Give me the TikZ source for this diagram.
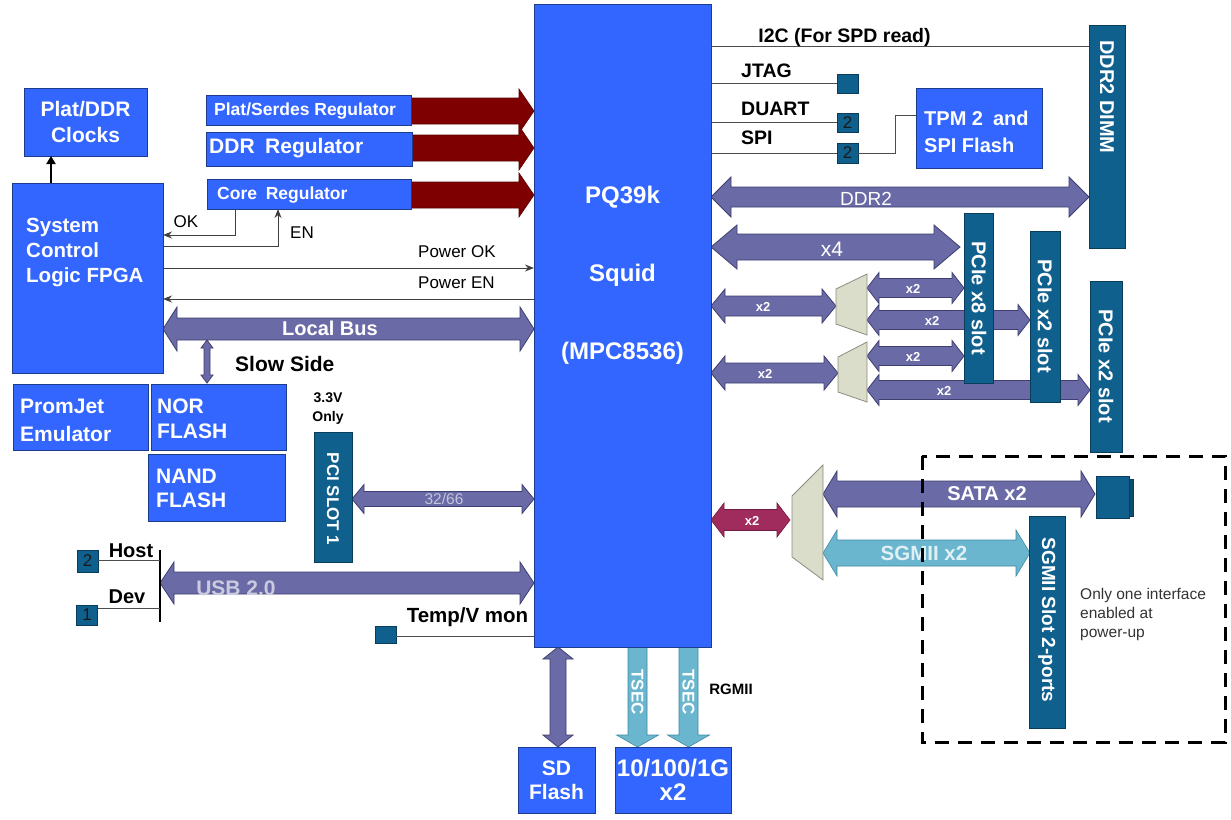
\documentclass[tikz,border=0pt]{standalone}
\usepackage{fontspec}
\setmainfont{Liberation Sans}
\usetikzlibrary{arrows.meta}
\definecolor{boxblue}{HTML}{3366FF}
\definecolor{boxedge}{HTML}{1E3C8C}
\definecolor{slotteal}{HTML}{10608E}
\definecolor{slotedge}{HTML}{0A3C5C}
\definecolor{busfill}{HTML}{6A6AA6}
\definecolor{busedge}{HTML}{3E3E70}
\definecolor{regred}{HTML}{7E0000}
\definecolor{regedge}{HTML}{5A0000}
\definecolor{crim}{HTML}{A02C5E}
\definecolor{crimedge}{HTML}{701A40}
\definecolor{ltblue}{HTML}{6AB6CE}
\definecolor{ltedge}{HTML}{3E8AA4}
\definecolor{muxfill}{HTML}{D9DDC9}
\definecolor{muxedge}{HTML}{8C8C80}
\newcommand\myfs[2]{\fontsize{#1}{#2}\selectfont}
% horizontal double arrow: x1 x2 y bodyhalf headhalf headlen style
\newcommand\HBus[7]{\draw[#7] (#1,#3) -- ({#1+#6},{#3-#5}) -- ({#1+#6},{#3-#4}) -- ({#2-#6},{#3-#4}) -- ({#2-#6},{#3-#5}) -- (#2,#3) -- ({#2-#6},{#3+#5}) -- ({#2-#6},{#3+#4}) -- ({#1+#6},{#3+#4}) -- ({#1+#6},{#3+#5}) -- cycle;}
% horizontal single arrow to the right
\newcommand\RArr[7]{\draw[#7] (#1,{#3-#4}) -- ({#2-#6},{#3-#4}) -- ({#2-#6},{#3-#5}) -- (#2,#3) -- ({#2-#6},{#3+#5}) -- ({#2-#6},{#3+#4}) -- (#1,{#3+#4}) -- cycle;}
% vertical double arrow: x y1 y2 bodyhalf headhalf headlen style
\newcommand\VBus[7]{\draw[#7] (#1,#2) -- ({#1+#5},{#2+#6}) -- ({#1+#4},{#2+#6}) -- ({#1+#4},{#3-#6}) -- ({#1+#5},{#3-#6}) -- (#1,#3) -- ({#1-#5},{#3-#6}) -- ({#1-#4},{#3-#6}) -- ({#1-#4},{#2+#6}) -- ({#1-#5},{#2+#6}) -- cycle;}
% vertical single arrow downwards
\newcommand\DArr[7]{\draw[#7] ({#1-#4},#2) -- ({#1+#4},#2) -- ({#1+#4},{#3-#6}) -- ({#1+#5},{#3-#6}) -- (#1,#3) -- ({#1-#5},{#3-#6}) -- ({#1-#4},{#3-#6}) -- cycle;}
\begin{document}
\begin{tikzpicture}[x=1pt,y=-1pt,
  bbox/.style={draw=boxedge,line width=0.8pt,fill=boxblue,inner sep=0pt,outer sep=0pt,text=white},
  slot/.style={draw=slotedge,line width=0.8pt,fill=slotteal,inner sep=0pt,outer sep=0pt},
  sq/.style={slot,minimum width=21pt,minimum height=20pt,text=black!90,font=\myfs{17}{17}},
  wt/.style={text=white,inner sep=0pt},
  rt/.style={text=white,inner sep=0pt,rotate=-90},
  lbl/.style={text=black,inner sep=0pt},
  bus/.style={fill=busfill,draw=busedge,line width=0.8pt},
  reg/.style={fill=regred,draw=regedge,line width=0.6pt},
  crm/.style={fill=crim,draw=crimedge,line width=0.6pt},
  ltb/.style={fill=ltblue,draw=ltedge,line width=0.6pt},
  mux/.style={fill=muxfill,draw=muxedge,line width=0.8pt},
  wire/.style={draw=black!70,line width=1pt},
  sig/.style={draw=black!75,line width=1pt,-{Stealth[length=9pt,width=7pt]}},
  xtwo/.style={wt,font=\bfseries\myfs{13}{13}}]
\fill[white] (0,0) rectangle (1231,819);
\useasboundingbox (0,0) rectangle (1231,819);

% ---------- buses (behind boxes)
\HBus{163}{534}{329}{11}{22}{14}{bus}
\VBus{207}{340}{383}{3}{6}{8}{bus}
\HBus{352}{534}{499}{7.5}{14.5}{12}{bus}
\HBus{160}{534}{583}{11}{21}{14}{bus}
\HBus{711}{1089}{197}{10}{20}{20}{bus}
\HBus{711}{960}{247}{13}{22}{26}{bus}
\HBus{711}{836}{306}{10}{17}{14}{bus}
\HBus{711}{838}{373}{10}{17}{14}{bus}
\HBus{867}{964}{288}{9.5}{15.5}{12}{bus}
\HBus{867}{1030}{320}{9.5}{15.5}{12}{bus}
\HBus{867}{964}{356}{9.5}{15.5}{12}{bus}
\HBus{867}{1090}{390}{9.5}{15.5}{12}{bus}
\HBus{711}{790}{520}{10.5}{17}{13}{crm}
\HBus{823}{1095}{494}{13}{23}{14}{bus}
\HBus{823}{1030}{553}{13}{23}{14}{ltb}
\VBus{558}{647}{747}{8}{15}{12}{bus}
\DArr{637.5}{647}{747}{9.5}{21}{12}{ltb}
\DArr{688.5}{647}{747}{9.5}{21}{12}{ltb}
\RArr{411}{534}{111}{13}{22}{15}{reg}
\RArr{411}{534}{148}{13}{22}{15}{reg}
\RArr{411}{534}{195}{13}{22}{15}{reg}

% muxes
\draw[mux] (836,289) -- (867,274) -- (867,335) -- (836,324) -- cycle;
\draw[mux] (838,357) -- (867,342) -- (867,402) -- (838,392) -- cycle;
\draw[mux] (792,496) -- (823,465) -- (823,580) -- (792,557) -- cycle;

% bus labels
\node[wt,font=\bfseries\myfs{20}{20}] (lbt) at (330,328) {Local Bus};
\node[wt,text=busfill!40,font=\myfs{15.5}{16}] (pcit) at (444,499) {32/66};
\node[wt,text=busfill!35,font=\bfseries\myfs{21}{21}] (usbt) at (236,588) {USB 2.0};
\node[wt,font=\myfs{19}{19}] (ddrt) at (866,199) {DDR2};
\node[wt,font=\myfs{21}{21}] (x4t) at (832,249) {x4};
\node[xtwo] (xa) at (763,307) {x2};
\node[xtwo] (xb) at (765,374) {x2};
\node[xtwo] (xc) at (913,289) {x2};
\node[xtwo] (xd) at (932,321) {x2};
\node[xtwo] (xe) at (913,357) {x2};
\node[xtwo] (xf) at (944,391) {x2};
\node[xtwo] (xg) at (752,521) {x2};
\node[wt,font=\bfseries\myfs{20}{20}] (satat) at (987,494) {SATA x2};
\node[wt,text=ltblue!20,font=\bfseries\myfs{20.5}{20}] (sgt) at (924,553) {SGMII x2};

% ---------- chip
\node[bbox,minimum width=177pt,minimum height=643pt] (chip) at (622.5,325.5) {};
\node[wt,font=\bfseries\myfs{24}{24}] (c1) at (622.5,197) {PQ39k};
\node[wt,font=\bfseries\myfs{24}{24}] (c2) at (622.5,275) {Squid};
\node[wt,font=\bfseries\myfs{24}{24}] (c3) at (622.5,353) {(MPC8536)};

% ---------- left boxes
\node[bbox,minimum width=123pt,minimum height=68pt,align=center,font=\bfseries\myfs{21}{26}] (clk) at (85.5,122) {Plat/DDR\\Clocks};
\node[bbox,minimum width=151pt,minimum height=190pt] (fpga) at (87.5,278) {};
\node[wt,anchor=west,align=left,font=\bfseries\myfs{20.5}{25}] (fpgat) at (26,253) {System\\Control\\Logic FPGA};
\coordinate (clkx) at (51,0);
\draw[line width=2.5pt,-{Triangle[length=8pt,width=9pt]}] (fpga.north -| clkx) -- (clk.south -| clkx);

\node[bbox,minimum width=205pt,minimum height=30pt] (reg1) at (308.5,110) {};
\node[wt,anchor=west,font=\bfseries\myfs{17.5}{18}] (reg1t) at (214,111) {Plat/Serdes Regulator};
\node[bbox,minimum width=206pt,minimum height=34pt] (reg2) at (309,149) {};
\node[wt,anchor=west,font=\bfseries\myfs{21}{21}] (reg2t) at (209,148) {DDR\enspace Regulator};
\node[bbox,minimum width=204pt,minimum height=30pt] (reg3) at (309,194) {};
\node[wt,anchor=west,font=\bfseries\myfs{17.5}{18}] (reg3t) at (217,195) {Core\enspace Regulator};

% OK / EN / Power signals
\coordinate (okx) at (235,235);
\coordinate (enx) at (278,246);
\coordinate (pok) at (0,268);
\coordinate (pen) at (0,299);
\draw[sig] (reg3.south -| okx) |- (fpga.east |- okx);
\draw[sig] (fpga.east |- enx) -| (reg3.south -| enx);
\node[lbl,font=\myfs{17}{17}] (okt) at (186,222) {OK};
\node[lbl,font=\myfs{17}{17}] (ent) at (302,233) {EN};
\draw[sig] (fpga.east |- pok) -- (chip.west |- pok);
\draw[sig] (chip.west |- pen) -- (fpga.east |- pen);
\node[lbl,anchor=west,font=\myfs{17}{17}] (pokt) at (418,252) {Power OK};
\node[lbl,anchor=west,font=\myfs{17}{17}] (pent) at (418,283) {Power EN};
\node[lbl,anchor=west,font=\bfseries\myfs{21}{21}] (slow) at (235,364) {Slow Side};

\node[bbox,minimum width=135pt,minimum height=66pt] (prom) at (80.5,417) {};
\node[wt,anchor=west,align=left,font=\bfseries\myfs{21}{28}] (promt) at (20,420) {PromJet\\Emulator};
\node[bbox,minimum width=135pt,minimum height=66pt] (nor) at (218.5,417) {};
\node[wt,anchor=west,align=left,font=\bfseries\myfs{21}{25}] (nort) at (157,418.5) {NOR\\FLASH};
\node[bbox,minimum width=137pt,minimum height=67pt] (nand) at (216.5,487.5) {};
\node[wt,anchor=west,align=left,font=\bfseries\myfs{21}{24}] (nandt) at (156,488) {NAND\\FLASH};

\node[lbl,align=center,font=\bfseries\myfs{14}{19}] (v33) at (328,408.5) {3.3V\\Only};
\node[slot,minimum width=38pt,minimum height=130pt] (pci) at (333,497) {};
\node[rt,font=\bfseries\myfs{17}{17}] (pcit2) at (333,499) {PCI SLOT 1};

% USB host/dev
\coordinate (bartop) at (160,550);
\coordinate (barbot) at (160,622);
\draw[line width=2.5pt] (bartop) -- (barbot);
\node[sq,minimum width=21pt,minimum height=22pt] (hostsq) at (87.5,561) {2};
\node[sq] (devsq) at (87,615) {1};
\coordinate (hosty) at (0,560);
\coordinate (devy) at (0,608);
\draw[wire] (hostsq.east |- hosty) -- (bartop |- hosty);
\draw[wire] (devsq.east |- devy) -- (bartop |- devy);
\node[lbl,font=\bfseries\myfs{20}{20}] (hostt) at (131,551) {Host};
\node[lbl,font=\bfseries\myfs{20}{20}] (devt) at (127,597) {Dev};

% Temp/V mon
\node[sq,minimum width=21pt,minimum height=17pt] (tempsq) at (385.5,634.5) {};
\coordinate (tempy) at (0,636);
\draw[wire] (tempsq.east |- tempy) -- (chip.west |- tempy);
\node[lbl,font=\bfseries\myfs{20.5}{20}] (tempt) at (467.5,617) {Temp/V mon};

% ---------- right side
\node[slot,minimum width=36pt,minimum height=223pt] (dimm) at (1107,136.5) {};
\node[rt,font=\bfseries\myfs{20}{20}] (dimmt) at (1107,97) {DDR2 DIMM};
\coordinate (i2cy) at (0,46);
\draw[wire] (chip.east |- i2cy) -- (dimm.west |- i2cy);
\node[lbl,font=\bfseries\myfs{19.5}{19}] (i2ct) at (844.5,37) {I2C (For SPD read)};

\node[sq,minimum height=19pt] (jtag) at (847.5,83.5) {};
\node[sq,minimum height=19pt] (duart) at (847.5,122.5) {2};
\node[sq] (spisq) at (847.5,153) {2};
\draw[wire] (chip.east |- jtag) -- (jtag.west);
\draw[wire] (chip.east |- duart) -- (duart.west);
\draw[wire] (chip.east |- spisq) -- (spisq.west);
\node[lbl,anchor=west,font=\bfseries\myfs{19.5}{20}] (jtagt) at (741,71) {JTAG};
\node[lbl,anchor=west,font=\bfseries\myfs{19.5}{20}] (duartt) at (741,109) {DUART};
\node[lbl,anchor=west,font=\bfseries\myfs{19.5}{20}] (spit) at (741,138) {SPI};

\node[bbox,minimum width=126pt,minimum height=80pt] (tpm) at (979,128) {};
\node[wt,anchor=west,align=left,font=\bfseries\myfs{20}{27}] (tpmt) at (924,131.5) {TPM 2\enspace and\\SPI Flash};
\coordinate (spij) at (895,115);
\draw[wire] (spisq.east) -| (spij) -- (tpm.west |- spij);

\node[slot,minimum width=29pt,minimum height=170pt] (pcie8) at (978.5,298) {};
\node[rt,font=\bfseries\myfs{20}{20}] (pcie8t) at (979,298) {PCIe x8 slot};
\node[slot,minimum width=30pt,minimum height=171pt] (pcie2a) at (1045,316.5) {};
\node[rt,font=\bfseries\myfs{20}{20}] (pcie2at) at (1045,316) {PCIe x2 slot};
\node[slot,minimum width=32pt,minimum height=171pt] (pcie2b) at (1106,366.5) {};
\node[rt,font=\bfseries\myfs{20}{20}] (pcie2bt) at (1106,366) {PCIe x2 slot};

% SATA connector and SGMII slot
\node[slot,minimum width=6pt,minimum height=37pt,fill=slotteal!80!black] (satatab) at (1130,498) {};
\node[slot,minimum width=33pt,minimum height=42pt] (sata) at (1112.5,497) {};
\node[slot,minimum width=36pt,minimum height=212pt] (sgslot) at (1047,622) {};
\node[rt,font=\bfseries\myfs{19}{19}] (sgslott) at (1047,620) {SGMII Slot 2-ports};

\draw[line width=3pt,dash pattern=on 14pt off 9pt] (922,456) rectangle (1225,742);
\node[lbl,text=black!80,anchor=west,align=left,font=\myfs{15.5}{19}] (note) at (1080,614) {Only one interface\\enabled at\\power-up};

% ---------- bottom
\node[lbl,font=\bfseries\myfs{15}{15}] (rgmii) at (731,689) {RGMII};
\node[rt,font=\bfseries\myfs{17}{17}] (ts1) at (637.5,692) {TSEC};
\node[rt,font=\bfseries\myfs{17}{17}] (ts2) at (688.5,692) {TSEC};
\node[bbox,minimum width=77pt,minimum height=66pt,align=center,font=\bfseries\myfs{21}{24}] (sd) at (556.5,780) {SD\\Flash};
\node[bbox,minimum width=116pt,minimum height=66pt,align=center,font=\bfseries\myfs{24}{24}] (eth) at (673,780) {10/100/1G\\x2};
\end{tikzpicture}
\end{document}
